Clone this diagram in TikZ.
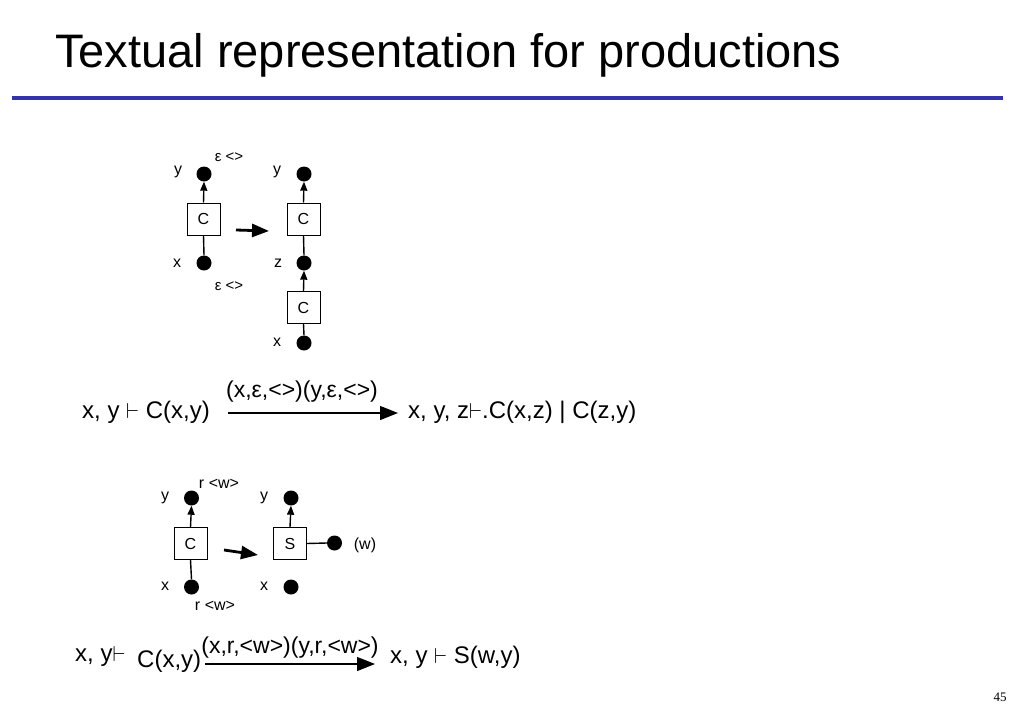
\documentclass[tikz,border=0pt]{standalone}
\usepackage{fontspec}
\setmainfont{Liberation Sans}
\newfontfamily\pagefont{Liberation Serif}
\usetikzlibrary{arrows.meta}
\newcommand{\turn}{\resizebox{13pt}{15pt}{$\vdash$}}
\definecolor{rulecol}{RGB}{52,52,168}
\begin{document}
\begin{tikzpicture}[x=1pt,y=-1pt,
  dot/.style={circle,fill=black,minimum size=15pt,inner sep=0pt},
  box/.style={draw,line width=1pt,minimum width=33pt,minimum height=32pt,inner sep=0pt,font=\fontsize{16}{16}\selectfont},
  lbl/.style={font=\fontsize{16}{16}\selectfont,inner sep=0pt},
  tiny/.style={font=\fontsize{15}{15}\selectfont,inner sep=0pt},
  big/.style={font=\fontsize{24}{24}\selectfont,inner sep=0pt,anchor=base west},
  biglab/.style={font=\fontsize{23}{23}\selectfont,inner sep=0pt,anchor=base},
  conn/.style={line width=1.4pt},
  tipconn/.style={line width=1.4pt,-{Triangle[length=9pt,width=7pt]}},
  bigarrow/.style={line width=2.8pt,-{Triangle[length=17pt,width=13pt]}},
  relarrow/.style={line width=1.1pt,-{Triangle[length=18pt,width=14pt]}}
]
\useasboundingbox (0,0) rectangle (1024,709);
% title
\node[font=\fontsize{47}{47}\selectfont,inner sep=0pt,anchor=base west] (title) at (55,67) {Textual representation for productions};
\coordinate (rl) at (12,98);
\coordinate (rr) at (1003,98);
\draw[rulecol,line width=4pt] (rl) -- (rr);
\node[font=\pagefont\fontsize{13}{13}\selectfont,inner sep=0pt] (page) at (1000,697) {45};

% ---- first production, left side
\node[dot] (yA) at (204,174) {};
\node[box] (cA) at (203.5,219) {C};
\node[dot] (xA) at (204,263) {};
\node[lbl] (lyA) at (178,172) {y};
\node[lbl] (lxA) at (177,263) {x};
\node[tiny] (eA1) at (229,157) {ε <>};
\node[tiny] (eA2) at (229,286) {ε <>};
\draw[tipconn] (cA.north) -- (yA.south);
\draw[conn] (cA.south) -- (xA.north);

% arrow
\coordinate (a1s) at (236,230);
\coordinate (a1e) at (269,231);
\draw[bigarrow] (a1s) -- (a1e);

% right side
\node[dot] (yB) at (304,174) {};
\node[box] (cB) at (303.5,219) {C};
\node[dot] (zB) at (304,263) {};
\node[box] (cB2) at (303.5,307.5) {C};
\node[dot] (xB) at (304,343) {};
\node[lbl] (lyB) at (277,172) {y};
\node[lbl] (lzB) at (278,263) {z};
\node[lbl] (lxB) at (277,342) {x};
\draw[tipconn] (cB.north) -- (yB.south);
\draw[conn] (cB.south) -- (zB.north);
\draw[tipconn] (cB2.north) -- (zB.south);
\draw[conn] (cB2.south) -- (xB.north);

% textual rule 1
\node[big] (t1l) at (82,418) {x, y \turn{} C(x,y)};
\coordinate (r1s) at (228,413);
\coordinate (r1e) at (398,413);
\draw[relarrow] (r1s) -- (r1e);
\node[biglab] (t1m) at (302,397) {(x,ε,<>)(y,ε,<>)};
\node[big] (t1r) at (408,418) {x, y, z\turn.C(x,z) | C(z,y)};

% ---- second production, left side
\node[dot] (yC) at (191.5,498) {};
\node[box] (cC) at (190.5,543.5) {C};
\node[dot] (xC) at (191.5,587) {};
\node[lbl] (lyC) at (165,498) {y};
\node[lbl] (lxC) at (165,586) {x};
\node[lbl] (rC1) at (219,484) {r <w>};
\node[lbl] (rC2) at (215,606) {r <w>};
\draw[tipconn] (cC.north) -- (yC.south);
\draw[conn] (cC.south) -- (xC.north);

\coordinate (a2s) at (224,550);
\coordinate (a2e) at (258,555);
\draw[bigarrow] (a2s) -- (a2e);

% right side
\node[dot] (yD) at (291,498) {};
\node[box] (sD) at (290,543.5) {S};
\node[dot] (wD) at (334.5,543) {};
\node[dot] (xD) at (291,587) {};
\node[lbl] (lyD) at (264,498) {y};
\node[lbl] (lxD) at (264,586) {x};
\node[lbl] (lwD) at (365,545) {(w)};
\draw[tipconn] (sD.north) -- (yD.south);
\draw[conn] (sD.east) -- (wD.west);

% textual rule 2
\node[big] (t2l) at (75,661) {x, y\turn};
\node[big] (t2c) at (137,667) {C(x,y)};
\coordinate (r2s) at (205,664);
\coordinate (r2e) at (375,664);
\draw[relarrow] (r2s) -- (r2e);
\node[biglab] (t2m) at (290,653) {(x,r,<w>)(y,r,<w>)};
\node[big] (t2r) at (390,663) {x, y \turn{} S(w,y)};
\end{tikzpicture}
\end{document}
